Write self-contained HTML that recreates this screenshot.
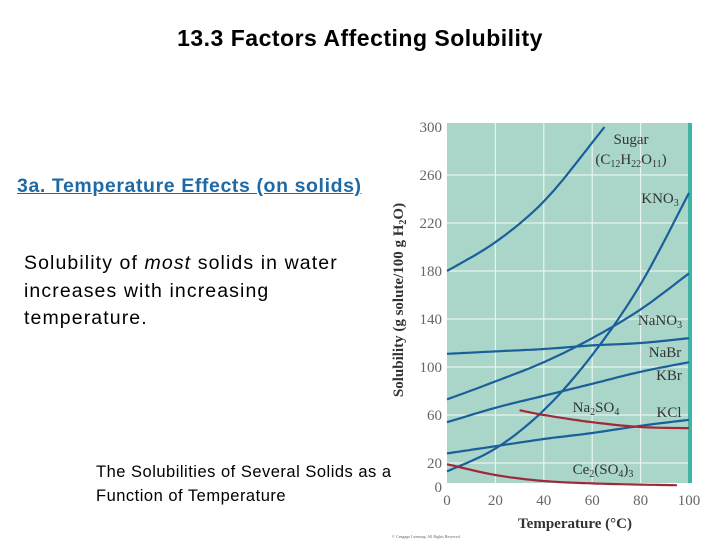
<!DOCTYPE html>
<html><head><meta charset="utf-8"><style>
body{margin:0;width:720px;height:540px;background:#fff;position:relative;overflow:hidden;font-family:"Liberation Sans",sans-serif}
.t{position:absolute;white-space:nowrap}
</style></head><body>
<div class="t" style="left:0;width:720px;text-align:center;top:25px;font-size:23px;letter-spacing:0.5px;font-weight:bold;color:#000">13.3 Factors Affecting Solubility</div>
<div class="t" style="left:17px;top:175px;font-size:19.5px;letter-spacing:0.6px;font-weight:bold;color:#1f6aa5;text-decoration:underline">3a. Temperature Effects (on solids)</div>
<div class="t" style="left:24px;top:250px;font-size:19.5px;letter-spacing:1.1px;line-height:27.5px;color:#000">Solubility of <i>most</i> solids in water<br>increases with increasing<br>temperature.</div>
<div class="t" style="left:96px;top:460px;font-size:16.5px;letter-spacing:0.5px;line-height:24px;color:#000">The Solubilities of Several Solids as a<br>Function of Temperature</div>
<svg id="chart" width="720" height="540" style="position:absolute;left:0;top:0" font-family="Liberation Serif, serif">
<rect x="447" y="123" width="241" height="360" fill="#a9d6c9"/>
<rect x="688" y="123" width="4" height="360" fill="#3fb3a4"/>
<g id="grid"></g><g id="series"></g><g id="labels"></g>
<text transform="translate(403,300) rotate(-90)" text-anchor="middle" font-size="15" font-weight="bold" fill="#333">Solubility (g solute/100 g H<tspan font-size="10" dy="3">2</tspan><tspan dy="-3">O)</tspan></text>
<text x="575" y="528" text-anchor="middle" font-size="15" font-weight="bold" fill="#333">Temperature (°C)</text>
<text x="392" y="538" font-size="4" fill="#666">© Cengage Learning. All Rights Reserved.</text>
</svg>
<script>
const xTicks=[0,20,40,60,80,100];
const yTicks=[0,20,60,100,140,180,220,260,300];
const temps=[0,20,40,60,80,100];
const sugar=[180,204,238,287,340,400];
const kno3=[13,32,64,110,169,245];
const nano3=[73,88,104,124,148,178];
const nabr=[111,113,115,118,120,124];
const kbr=[54,66,76,86,96,104];
const kcl=[28,34,40,45,51,56];
const na2so4Temps=[30,40,60,80,100];
const na2so4=[64,60,54,50,49];
const ceTemps=[0,20,40,60,80,95];
const ce2so43=[19,10,5,3,2,1.5];
const X=v=>447+v*2.42, Y=v=>487-v*1.2;
const NS='http://www.w3.org/2000/svg';
function mk(tag,at,parent){const e=document.createElementNS(NS,tag);for(const k in at)e.setAttribute(k,at[k]);document.getElementById(parent).appendChild(e);return e;}
xTicks.forEach(t=>{
 if(t>0&&t<100){const l=mk('line',{x1:X(t),x2:X(t),y1:123,y2:483,stroke:'#e8f4ef','stroke-width':1.2},'grid');
 
 }
 const tx=mk('text',{x:X(t),y:505,'text-anchor':'middle','font-size':15,fill:'#666'},'labels');tx.textContent=t;
 
 
});
yTicks.forEach(t=>{
 if(t>0&&t<300){const l=mk('line',{x1:447,x2:688,y1:Y(t),y2:Y(t),stroke:'#e8f4ef','stroke-width':1.2},'grid');
 
 }
 const tx=mk('text',{x:442,y:Y(t)+5,'text-anchor':'end','font-size':15,fill:'#666'},'labels');tx.textContent=t;
 
 
});
function curve(xs,ys,color,name){
 let d='';xs.forEach((x,i)=>{d+=(i?'L':'M')+X(x).toFixed(1)+','+Y(ys[i]).toFixed(1);});
 const p=mk('path',{d:d,fill:'none',stroke:color,'stroke-width':2.2},'series');
 
 
}
function smooth(xs,ys){const ox=[],oy=[];for(let i=0;i<xs.length-1;i++){const p0=i?i-1:i,p3=i+2<xs.length?i+2:i+1;for(let s=0;s<10;s++){const t=s/10,t2=t*t,t3=t2*t;const f=(a,b,c,d)=>0.5*(2*b+(-a+c)*t+(2*a-5*b+4*c-d)*t2+(-a+3*b-3*c+d)*t3);ox.push(f(xs[p0],xs[i],xs[i+1],xs[p3]));oy.push(f(ys[p0],ys[i],ys[i+1],ys[p3]));}}ox.push(xs[xs.length-1]);oy.push(ys[ys.length-1]);return [ox,oy];}
function clipCurve(xs,ys,color,name){let [a,b]=smooth(xs,ys);const ax=[],by=[];for(let i=0;i<a.length;i++){if(b[i]<=300){ax.push(a[i]);by.push(b[i]);}else{if(i>0&&b[i-1]<300){const f=(300-b[i-1])/(b[i]-b[i-1]);ax.push(a[i-1]+f*(a[i]-a[i-1]));by.push(300);}break;}}curve(ax,by,color,name);}
const blue='#1a5f9a',red='#a0283a';
clipCurve(temps,sugar,blue,'series-sugar');
clipCurve(temps,kno3,blue,'series-kno3');
clipCurve(temps,nano3,blue,'series-nano3');
clipCurve(temps,nabr,blue,'series-nabr');
clipCurve(temps,kbr,blue,'series-kbr');
clipCurve(temps,kcl,blue,'series-kcl');
clipCurve(na2so4Temps,na2so4,red,'series-na2so4');
clipCurve(ceTemps,ce2so43,red,'series-ce2so43');
const labs=[['Sugar',631,144,'label-sugar'],['(C<tspan font-size="10" dy="3">12</tspan><tspan dy="-3">H</tspan><tspan font-size="10" dy="3">22</tspan><tspan dy="-3">O</tspan><tspan font-size="10" dy="3">11</tspan><tspan dy="-3">)</tspan>',631,164,'label-sugar-formula'],
['KNO<tspan font-size="10" dy="3">3</tspan>',660,203,'label-kno3'],['NaNO<tspan font-size="10" dy="3">3</tspan>',660,325,'label-nano3'],['NaBr',665,357,'label-nabr'],['KBr',669,380,'label-kbr'],
['Na<tspan font-size="10" dy="3">2</tspan><tspan dy="-3">SO</tspan><tspan font-size="10" dy="3">4</tspan>',596,412,'label-na2so4'],['KCl',669,417,'label-kcl'],['Ce<tspan font-size="10" dy="3">2</tspan><tspan dy="-3">(SO</tspan><tspan font-size="10" dy="3">4</tspan><tspan dy="-3">)</tspan><tspan font-size="10" dy="3">3</tspan>',603,474,'label-ce2so43']];
labs.forEach(l=>{const t=mk('text',{x:l[1],y:l[2],'text-anchor':'middle','font-size':15,fill:'#333'},'labels');t.innerHTML=l[0];
 
 });
</script>
</body></html>
